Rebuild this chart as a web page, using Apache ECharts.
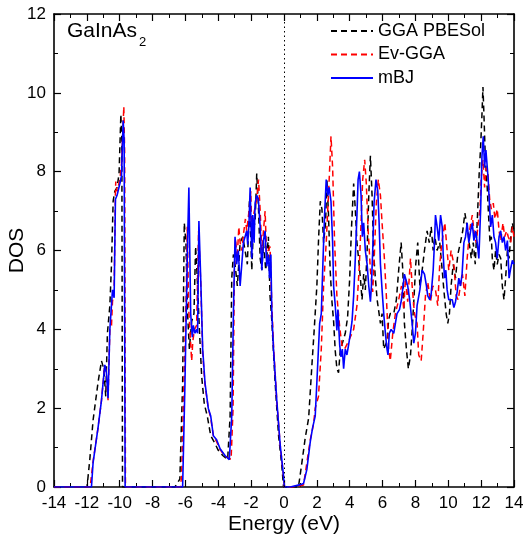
<!DOCTYPE html>
<html><head><meta charset="utf-8">
<script src="https://cdn.jsdelivr.net/npm/echarts@6/dist/echarts.min.js"></script>
<style>html,body{margin:0;padding:0;background:#fff}#c{width:523px;height:546px}</style>
</head><body><div id="c"></div>
<script>
const seriesNames = ['GGA PBESol', 'Ev-GGA', 'mBJ'];
const xTicks = [-14,-12,-10,-8,-6,-4,-2,0,2,4,6,8,10,12,14];
const yTicks = [0,2,4,6,8,10,12];

const ggaPbesol = [[-14,0],[-11.99,0],[-11.82,0.7],[-11.62,1.7],[-11.32,2.65],[-11.11,3.2],[-10.97,3.0],[-10.85,2.3],[-10.75,3.9],[-10.6,4.6],[-10.5,5.65],[-10.4,7.25],[-10.3,7.5],[-10.16,7.6],[-10.04,7.95],[-9.93,9.45],[-9.87,8.8],[-9.83,0],
[-6.64,0],[-6.34,0.2],[-6.17,2.65],[-6.07,6.7],[-5.97,6.2],[-5.87,4.4],[-5.76,3.5],[-5.62,4.2],[-5.48,4.4],[-5.38,6.1],[-5.28,5.3],[-5.15,4.0],[-5.01,2.8],[-4.85,2.1],[-4.67,1.8],[-4.46,1.3],[-4.2,1.1],[-4.0,0.93],[-3.73,0.8],[-3.43,0.7],[-3.28,1.8],[-3.18,5.3],[-3.08,5.9],[-2.98,5.65],[-2.84,5.1],[-2.67,6.2],[-2.51,6.35],[-2.37,6.0],[-2.23,5.65],[-2.1,7.3],[-1.96,5.5],[-1.86,6.6],[-1.76,6.7],[-1.66,7.95],[-1.56,7.15],[-1.45,5.8],[-1.35,5.5],[-1.25,6.2],[-1.11,5.5],[-0.95,6.35],[-0.85,4.85],[-0.74,4.2],[-0.54,2.65],[-0.33,1.3],[-0.13,0.53],[-0.03,0],
[0.88,0],[1.09,0.62],[1.29,1.24],[1.5,1.75],[1.7,3.1],[1.84,4.0],[2.0,5.1],[2.11,6.35],[2.21,7.25],[2.31,7.05],[2.41,6.2],[2.53,6.7],[2.61,7.8],[2.71,6.9],[2.81,5.5],[2.92,4.7],[3.02,4.2],[3.12,3.45],[3.22,3.0],[3.32,2.9],[3.43,3.5],[3.59,3.7],[3.73,3.9],[3.87,4.3],[4.0,5.3],[4.1,6.5],[4.24,7.7],[4.34,7.05],[4.44,6.2],[4.55,5.75],[4.65,5.3],[4.75,4.75],[4.85,5.4],[4.95,5.0],[5.06,6.0],[5.16,7.4],[5.26,8.4],[5.36,7.4],[5.46,5.9],[5.56,5.3],[5.67,4.75],[5.77,4.7],[5.87,4.15],[5.97,4.4],[6.07,3.5],[6.17,3.45],[6.27,3.7],[6.37,4.25],[6.47,4.4],[6.68,4.4],[6.84,4.75],[6.98,5.5],[7.13,6.2],[7.23,5.5],[7.33,4.15],[7.45,3.5],[7.57,3.0],[7.7,3.35],[7.8,3.97],[7.9,4.7],[8.02,5.65],[8.14,6.2],[8.27,5.1],[8.41,5.5],[8.55,6.0],[8.71,6.5],[8.84,6.2],[8.96,6.6],[9.08,6.0],[9.18,6.35],[9.32,6.0],[9.48,6.2],[9.63,5.5],[9.73,5.0],[9.87,4.4],[9.97,4.15],[10.07,4.4],[10.17,5.1],[10.3,5.65],[10.44,5.3],[10.58,5.9],[10.74,6.2],[10.88,6.5],[11.01,6.95],[11.15,6.6],[11.27,6.2],[11.4,5.8],[11.52,6.2],[11.64,5.65],[11.76,6.7],[11.88,7.95],[11.97,8.65],[12.05,9.45],[12.11,10.15],[12.17,9.45],[12.25,8.4],[12.37,7.6],[12.45,6.9],[12.54,6.2],[12.62,6.35],[12.68,5.8],[12.78,5.5],[12.88,6.0],[12.98,5.65],[13.09,5.9],[13.19,5.8],[13.29,5.1],[13.39,4.75],[13.49,5.3],[13.6,6.0],[13.7,5.8],[13.8,6.35],[13.9,6.7],[14,6.5]];

const evGga = [[-14,0],[-11.8,0],[-11.62,0.65],[-11.32,1.5],[-11.11,2.2],[-10.91,3.1],[-10.81,2.9],[-10.71,2.2],[-10.6,4.0],[-10.5,4.1],[-10.44,4.7],[-10.34,5.0],[-10.26,7.5],[-10.24,7.75],[-10.16,7.5],[-9.99,7.8],[-9.89,8.2],[-9.75,9.65],[-9.7,8.5],[-9.65,0],
[-6.3,0],[-6.23,0.3],[-6.1,2.5],[-5.95,5.0],[-5.89,6.6],[-5.8,4.5],[-5.62,3.2],[-5.55,3.7],[-5.45,4.0],[-5.32,4.1],[-5.2,6.5],[-5.07,5.2],[-4.95,3.4],[-4.81,2.6],[-4.61,2.0],[-4.46,1.75],[-4.3,1.3],[-4.1,1.15],[-3.89,0.95],[-3.59,0.78],[-3.22,0.7],[-3.1,2.0],[-3.02,5.5],[-2.95,6.3],[-2.85,5.8],[-2.75,6.6],[-2.67,6.2],[-2.57,6.0],[-2.47,6.4],[-2.35,6.8],[-2.27,6.5],[-2.13,7.0],[-2.02,7.5],[-1.96,6.4],[-1.9,6.8],[-1.76,7.1],[-1.66,7.3],[-1.55,7.8],[-1.45,7.0],[-1.35,6.0],[-1.25,6.5],[-1.15,7.0],[-1.05,5.8],[-0.95,6.0],[-0.85,6.1],[-0.74,4.6],[-0.64,3.6],[-0.44,2.2],[-0.23,1.06],[-0.07,0.44],[0.03,0],
[0.5,0],[1.19,0.05],[1.3,0.1],[1.6,1.2],[1.8,1.6],[1.9,2.0],[2.1,2.3],[2.27,3.5],[2.41,5.1],[2.57,6.2],[2.75,7.8],[2.86,8.9],[2.96,8.1],[3.08,6.2],[3.22,4.85],[3.39,4.05],[3.53,3.6],[3.69,3.5],[3.93,3.7],[4.24,4.0],[4.44,4.6],[4.59,5.65],[4.69,6.7],[4.79,7.8],[4.91,8.3],[5.01,7.7],[5.11,6.6],[5.26,5.5],[5.4,4.95],[5.5,5.9],[5.62,7.2],[5.74,7.8],[5.87,7.4],[5.97,6.7],[6.11,5.8],[6.23,4.85],[6.37,3.5],[6.47,3.2],[6.62,3.9],[6.78,4.4],[6.98,4.75],[7.15,5.1],[7.29,4.5],[7.39,5.3],[7.53,4.7],[7.7,5.8],[7.8,5.1],[7.94,4.4],[8.1,4.15],[8.2,3.35],[8.35,3.2],[8.47,3.9],[8.61,4.85],[8.75,5.2],[8.92,4.7],[9.06,5.1],[9.22,5.0],[9.36,4.6],[9.48,5.65],[9.61,6.2],[9.79,6.7],[9.93,6.0],[10.03,5.5],[10.17,6.0],[10.34,5.65],[10.48,4.85],[10.6,4.75],[10.74,5.1],[10.86,5.4],[11.01,4.85],[11.15,5.8],[11.29,6.5],[11.46,6.9],[11.56,6.5],[11.7,6.2],[11.8,6.6],[11.93,7.05],[12.0,7.8],[12.11,8.3],[12.21,7.6],[12.31,8.1],[12.41,7.95],[12.52,7.3],[12.62,7.05],[12.74,7.2],[12.84,6.8],[12.98,7.05],[13.09,6.5],[13.19,6.25],[13.33,6.7],[13.43,6.35],[13.55,6.5],[13.65,6.35],[13.8,6.2],[13.9,6.6],[14,6.35]];

const mbj = [[-14,0],[-11.72,0],[-11.62,0.62],[-11.32,1.5],[-11.11,2.2],[-10.91,3.1],[-10.81,2.9],[-10.71,2.25],[-10.6,4.0],[-10.5,4.0],[-10.44,5.0],[-10.34,4.8],[-10.26,7.3],[-10.16,7.4],[-9.99,7.7],[-9.89,7.9],[-9.79,9.3],[-9.73,8.8],[-9.67,0],
[-6.17,0],[-6.03,2.6],[-5.87,6.2],[-5.79,7.6],[-5.68,4.4],[-5.58,3.8],[-5.52,4.1],[-5.42,3.9],[-5.32,4.0],[-5.26,3.9],[-5.18,6.75],[-5.07,5.3],[-4.95,3.5],[-4.81,2.65],[-4.61,2.0],[-4.46,1.8],[-4.3,1.3],[-4.1,1.2],[-3.89,0.97],[-3.59,0.8],[-3.33,0.69],[-3.18,1.8],[-3.08,4.4],[-2.98,6.35],[-2.88,5.65],[-2.78,6.0],[-2.67,5.1],[-2.57,5.65],[-2.47,6.2],[-2.37,6.35],[-2.27,6.5],[-2.21,6.15],[-2.13,6.7],[-2.06,7.6],[-1.96,5.8],[-1.9,6.9],[-1.82,6.2],[-1.76,7.2],[-1.66,7.4],[-1.56,7.3],[-1.45,6.6],[-1.35,5.5],[-1.25,6.25],[-1.15,6.5],[-1.05,5.6],[-0.95,5.9],[-0.88,5.3],[-0.8,5.9],[-0.74,4.4],[-0.64,3.5],[-0.44,2.2],[-0.23,1.06],[-0.07,0.44],[0.03,0],
[0.38,0],[0.99,0.06],[1.19,0.09],[1.39,0.44],[1.6,1.15],[1.74,1.5],[1.9,1.8],[2.0,2.65],[2.17,4.15],[2.27,4.4],[2.37,5.7],[2.47,6.9],[2.57,7.8],[2.67,7.4],[2.75,7.6],[2.86,7.25],[2.96,6.2],[3.02,5.1],[3.12,4.6],[3.22,3.97],[3.28,4.5],[3.39,3.6],[3.47,3.3],[3.55,3.5],[3.63,3.0],[3.73,3.5],[3.83,3.35],[3.93,3.6],[4.04,3.9],[4.14,4.2],[4.24,4.85],[4.34,5.8],[4.44,6.9],[4.51,7.8],[4.59,8.0],[4.69,7.4],[4.77,6.35],[4.85,6.7],[4.95,6.0],[5.06,5.65],[5.16,5.1],[5.26,4.7],[5.32,5.1],[5.4,6.0],[5.48,7.2],[5.6,7.8],[5.71,7.5],[5.79,6.7],[5.87,5.65],[5.97,5.0],[6.07,4.4],[6.17,3.9],[6.27,3.5],[6.33,3.35],[6.41,3.9],[6.52,4.0],[6.62,4.05],[6.68,3.9],[6.78,4.15],[6.88,4.4],[7.03,4.5],[7.15,4.75],[7.25,5.1],[7.33,5.4],[7.45,5.4],[7.53,5.1],[7.65,4.75],[7.8,4.15],[7.9,3.65],[8.0,3.9],[8.1,4.6],[8.27,5.0],[8.41,5.5],[8.55,5.4],[8.67,5.1],[8.75,4.85],[8.88,4.75],[8.96,4.9],[9.08,5.5],[9.16,6.2],[9.22,6.9],[9.32,6.6],[9.42,6.25],[9.53,6.9],[9.63,6.6],[9.69,5.9],[9.77,5.3],[9.85,5.5],[9.93,5.0],[10.03,4.75],[10.13,4.7],[10.24,4.75],[10.34,4.55],[10.44,4.7],[10.54,4.95],[10.64,5.3],[10.74,5.1],[10.84,5.4],[10.95,6.2],[11.05,6.35],[11.15,6.7],[11.25,6.2],[11.36,6.5],[11.46,6.7],[11.56,6.25],[11.66,6.5],[11.76,6.2],[11.86,5.8],[11.97,7.05],[12.05,8.4],[12.13,8.9],[12.21,8.1],[12.29,8.55],[12.37,8.5],[12.43,7.8],[12.52,7.05],[12.58,6.6],[12.68,6.9],[12.78,6.35],[12.88,6.2],[12.98,5.8],[13.09,6.35],[13.19,6.5],[13.29,6.2],[13.39,6.35],[13.49,6.0],[13.6,6.25],[13.7,5.3],[13.8,5.55],[13.9,5.75],[14,5.65]];

const FONT = 'Liberation Sans, Arial, Helvetica, sans-serif';
const chart = echarts.init(document.getElementById('c'), null, {renderer: 'canvas'});
const axisCommon = {
  axisLine: {show: true, onZero: false, lineStyle: {color: '#000', width: 1.6}},
  axisTick: {show: true, inside: true, length: 7, lineStyle: {color: '#000', width: 1.2}},
  minorTick: {show: true, splitNumber: 2, length: 4, lineStyle: {color: '#000', width: 1}},
  splitLine: {show: false}
};
function xAx(pos, showLabel) {
  return Object.assign({}, axisCommon, {
    type: 'value', position: pos, min: xTicks[0], max: xTicks[xTicks.length-1], interval: 2,
    axisLabel: {show: showLabel, color: '#000', fontSize: 17, fontFamily: FONT, margin: 8},
    name: showLabel ? 'Energy (eV)' : '', nameLocation: 'middle', nameGap: 27, nameMoveOverlap: false,
    nameTextStyle: {color: '#000', fontSize: 21, fontFamily: FONT}
  });
}
function yAx(pos, showLabel) {
  return Object.assign({}, axisCommon, {
    type: 'value', position: pos, min: yTicks[0], max: yTicks[yTicks.length-1], interval: 2,
    axisLabel: {show: showLabel, color: '#000', fontSize: 17, fontFamily: FONT, margin: 8},
    name: showLabel ? 'DOS' : '', nameLocation: 'middle', nameGap: 26, nameMoveOverlap: false,
    nameTextStyle: {color: '#000', fontSize: 21, fontFamily: FONT}
  });
}
const dash = [6, 4];
chart.setOption({
  animation: false,
  backgroundColor: '#fff',
  grid: {left: 54, right: 9, top: 14, bottom: 59, containLabel: false, outerBoundsMode: 'none'},
  xAxis: [xAx('bottom', true), xAx('top', false)],
  yAxis: [yAx('left', true), yAx('right', false)],
  legend: {
    orient: 'vertical', left: 330, top: 22, padding: 0, itemWidth: 42, itemHeight: 14, itemGap: 5.5,
    itemStyle: {opacity: 0},
    textStyle: {color: '#000', fontSize: 18, fontFamily: FONT},
    data: seriesNames
  },
  graphic: [
    {type: 'text', left: 67, top: 21, style: {text: 'GaInAs', fontSize: 21, fontFamily: FONT, fill: '#000'}},
    {type: 'text', left: 139, top: 36, style: {text: '2', fontSize: 13, fontFamily: FONT, fill: '#000'}}
  ],
  series: [
    {name: seriesNames[0], type: 'line', data: ggaPbesol, symbol: 'none', z: 2,
     lineStyle: {color: '#000', width: 1.5, type: dash}, itemStyle: {color: '#000'},
     markLine: {silent: true, symbol: 'none', label: {show: false},
       lineStyle: {color: '#000', type: [1.5, 3], width: 1}, data: [{xAxis: 0}]}},
    {name: seriesNames[1], type: 'line', data: evGga, symbol: 'none', z: 3,
     lineStyle: {color: '#f00', width: 1.5, type: dash}, itemStyle: {color: '#f00'}},
    {name: seriesNames[2], type: 'line', data: mbj, symbol: 'none', z: 4,
     lineStyle: {color: '#0000ff', width: 1.6}, itemStyle: {color: '#0000ff'}}
  ]
});
</script></body></html>
